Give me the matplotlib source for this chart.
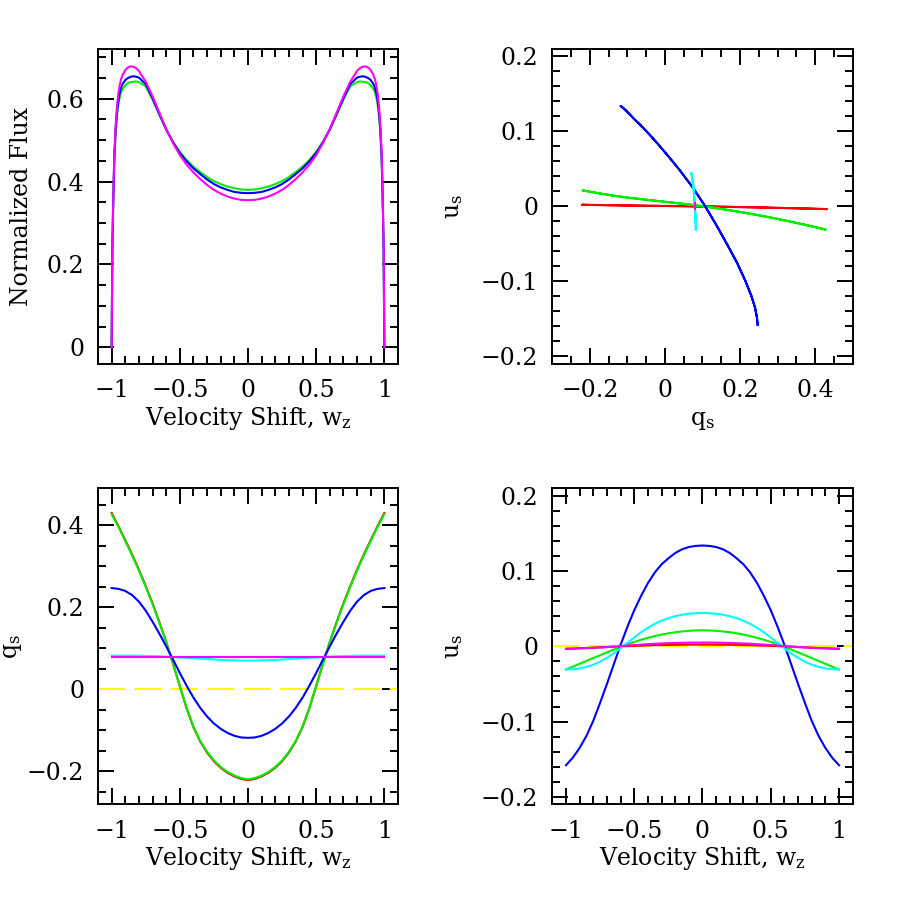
import matplotlib
matplotlib.use("Agg")
import matplotlib.pyplot as plt
from matplotlib.ticker import MultipleLocator, FuncFormatter

plt.rcParams['font.family'] = ['DejaVu Serif']
plt.rcParams['mathtext.fontset'] = 'dejavuserif'

# velocity grid for the flux profiles (finer near the line edges)
W_FLUX = [-1.0, -0.995, -0.99, -0.985, -0.98, -0.97, -0.96, -0.95, -0.94, -0.93, -0.92,
          -0.90, -0.88, -0.86, -0.84, -0.82, -0.80, -0.75, -0.70, -0.65, -0.60, -0.55,
          -0.50, -0.45, -0.40, -0.35, -0.30, -0.25, -0.20, -0.15, -0.10, -0.05, 0.0,
          0.05, 0.10, 0.15, 0.20, 0.25, 0.30, 0.35, 0.40, 0.45, 0.50, 0.55, 0.60,
          0.65, 0.70, 0.75, 0.80, 0.82, 0.84, 0.86, 0.88, 0.90, 0.92, 0.93, 0.94,
          0.95, 0.96, 0.97, 0.98, 0.985, 0.99, 0.995, 1.0]

flux_green = [0.0, 0.229, 0.321, 0.393, 0.456, 0.522, 0.563, 0.588, 0.605, 0.616, 0.623,
              0.632, 0.638, 0.640, 0.641, 0.6415, 0.640, 0.630, 0.598, 0.561, 0.525, 0.496,
              0.472, 0.452, 0.436, 0.423, 0.411, 0.401, 0.394, 0.388, 0.384, 0.381, 0.380,
              0.381, 0.384, 0.388, 0.394, 0.401, 0.411, 0.423, 0.436, 0.452, 0.472, 0.496, 0.525,
              0.561, 0.598, 0.630, 0.640, 0.6415, 0.641, 0.640, 0.638, 0.632, 0.623, 0.616, 0.605,
              0.588, 0.563, 0.522, 0.456, 0.393, 0.321, 0.229, 0.0]
flux_blue = [0.0, 0.231, 0.324, 0.397, 0.461, 0.528, 0.570, 0.597, 0.615, 0.627, 0.635,
             0.645, 0.650, 0.653, 0.654, 0.653, 0.651, 0.635, 0.601, 0.563, 0.526, 0.495,
             0.469, 0.449, 0.432, 0.418, 0.405, 0.394, 0.386, 0.380, 0.375, 0.373, 0.372,
             0.373, 0.375, 0.380, 0.386, 0.394, 0.405, 0.418, 0.432, 0.449, 0.469, 0.495, 0.526,
             0.563, 0.601, 0.635, 0.651, 0.653, 0.654, 0.653, 0.650, 0.645, 0.635, 0.627, 0.615,
             0.597, 0.570, 0.528, 0.461, 0.397, 0.324, 0.231, 0.0]
flux_magenta = [0.0, 0.235, 0.330, 0.405, 0.470, 0.540, 0.585, 0.614, 0.634, 0.648, 0.657,
                0.669, 0.6755, 0.678, 0.677, 0.6735, 0.667, 0.641, 0.606, 0.566, 0.527, 0.493,
                0.464, 0.441, 0.422, 0.406, 0.392, 0.380, 0.371, 0.364, 0.359, 0.356, 0.355,
                0.356, 0.359, 0.364, 0.371, 0.380, 0.392, 0.406, 0.422, 0.441, 0.464, 0.493, 0.527,
                0.566, 0.606, 0.641, 0.667, 0.6735, 0.677, 0.678, 0.6755, 0.669, 0.657, 0.648, 0.634,
                0.614, 0.585, 0.540, 0.470, 0.405, 0.330, 0.235, 0.0]

# velocity grid for the polarization curves
W_POL = [-1.0, -0.95, -0.90, -0.85, -0.80, -0.75, -0.70, -0.65, -0.60, -0.55, -0.50,
         -0.45, -0.40, -0.35, -0.30, -0.25, -0.20, -0.15, -0.10, -0.05, 0.0,
         0.05, 0.10, 0.15, 0.20, 0.25, 0.30, 0.35, 0.40, 0.45, 0.50,
         0.55, 0.60, 0.65, 0.70, 0.75, 0.80, 0.85, 0.90, 0.95, 1.0]

q_red = [0.430, 0.398, 0.364, 0.329, 0.292, 0.252, 0.210, 0.164, 0.116, 0.063, 0.008,
         -0.046, -0.092, -0.127, -0.154, -0.175, -0.191, -0.203, -0.212, -0.218, -0.221,
         -0.218, -0.212, -0.203, -0.191, -0.175, -0.154, -0.127, -0.092, -0.046, 0.008,
         0.063, 0.116, 0.164, 0.210, 0.252, 0.292, 0.329, 0.364, 0.398, 0.430]
q_green = [0.427, 0.396, 0.362, 0.327, 0.290, 0.250, 0.208, 0.163, 0.115, 0.063, 0.008,
           -0.045, -0.091, -0.126, -0.152, -0.173, -0.189, -0.201, -0.210, -0.216, -0.219,
           -0.216, -0.210, -0.201, -0.189, -0.173, -0.152, -0.126, -0.091, -0.045, 0.008,
           0.063, 0.115, 0.163, 0.208, 0.250, 0.290, 0.327, 0.362, 0.396, 0.427]
q_blue = [0.247, 0.245, 0.240, 0.230, 0.214, 0.192, 0.165, 0.136, 0.105, 0.073, 0.040,
          0.009, -0.020, -0.045, -0.066, -0.083, -0.096, -0.106, -0.113, -0.117, -0.118,
          -0.117, -0.113, -0.106, -0.096, -0.083, -0.066, -0.045, -0.020, 0.009, 0.040,
          0.073, 0.105, 0.136, 0.165, 0.192, 0.214, 0.230, 0.240, 0.245, 0.247]
q_cyan = [0.0825, 0.0825, 0.0824, 0.0823, 0.0821, 0.0818, 0.0813, 0.0807, 0.0800, 0.0790, 0.0780,
          0.0770, 0.0760, 0.0750, 0.0740, 0.0730, 0.0720, 0.0713, 0.0707, 0.0702, 0.0700,
          0.0702, 0.0707, 0.0713, 0.0720, 0.0730, 0.0740, 0.0750, 0.0760, 0.0770, 0.0780,
          0.0790, 0.0800, 0.0807, 0.0813, 0.0818, 0.0821, 0.0823, 0.0824, 0.0825, 0.0825]
q_magenta = [0.079, 0.079, 0.079, 0.079, 0.079, 0.079, 0.079, 0.079, 0.079, 0.079, 0.079,
             0.079, 0.079, 0.079, 0.079, 0.079, 0.079, 0.079, 0.079, 0.079, 0.079,
             0.079, 0.079, 0.079, 0.079, 0.079, 0.079, 0.079, 0.079, 0.079, 0.079,
             0.079, 0.079, 0.079, 0.079, 0.079, 0.079, 0.079, 0.079, 0.079, 0.079]

u_red = [-0.0035, -0.0031, -0.0026, -0.0022, -0.0018, -0.0013, -0.0009, -0.0005, -0.0001, 0.0003, 0.0006,
         0.0009, 0.0012, 0.0015, 0.0017, 0.0019, 0.0020, 0.0021, 0.0022, 0.0023, 0.0023,
         0.0023, 0.0022, 0.0021, 0.0020, 0.0019, 0.0017, 0.0015, 0.0012, 0.0009, 0.0006,
         0.0003, -0.0001, -0.0005, -0.0009, -0.0013, -0.0018, -0.0022, -0.0026, -0.0031, -0.0035]
u_green = [-0.0308, -0.0270, -0.0232, -0.0194, -0.0156, -0.0118, -0.0080, -0.0043, -0.0007, 0.0027, 0.0058,
           0.0087, 0.0113, 0.0136, 0.0156, 0.0173, 0.0187, 0.0198, 0.0206, 0.0211, 0.0213,
           0.0211, 0.0206, 0.0198, 0.0187, 0.0173, 0.0156, 0.0136, 0.0113, 0.0087, 0.0058,
           0.0027, -0.0007, -0.0043, -0.0080, -0.0118, -0.0156, -0.0194, -0.0232, -0.0270, -0.0308]
u_blue = [-0.158, -0.148, -0.135, -0.119, -0.099, -0.075, -0.050, -0.024, 0.002, 0.026, 0.048,
          0.067, 0.084, 0.098, 0.109, 0.117, 0.124, 0.129, 0.132, 0.1335, 0.134,
          0.1335, 0.132, 0.129, 0.124, 0.117, 0.109, 0.098, 0.084, 0.067, 0.048,
          0.026, 0.002, -0.024, -0.050, -0.075, -0.099, -0.119, -0.135, -0.148, -0.158]
u_cyan = [-0.0307, -0.0305, -0.0294, -0.0274, -0.0244, -0.0204, -0.0154, -0.0094, -0.0026, 0.0046, 0.0118,
          0.0186, 0.0246, 0.0298, 0.0340, 0.0374, 0.0401, 0.0420, 0.0433, 0.0441, 0.0444,
          0.0441, 0.0433, 0.0420, 0.0401, 0.0374, 0.0340, 0.0298, 0.0246, 0.0186, 0.0118,
          0.0046, -0.0026, -0.0094, -0.0154, -0.0204, -0.0244, -0.0274, -0.0294, -0.0305, -0.0307]
u_magenta = [-0.0030, -0.0029, -0.0027, -0.0024, -0.0020, -0.0015, -0.0010, -0.0004, 0.0003, 0.0010, 0.0017,
             0.0023, 0.0029, 0.0034, 0.0038, 0.0042, 0.0045, 0.0047, 0.0049, 0.0050, 0.0050,
             0.0050, 0.0049, 0.0047, 0.0045, 0.0042, 0.0038, 0.0034, 0.0029, 0.0023, 0.0017,
             0.0010, 0.0003, -0.0004, -0.0010, -0.0015, -0.0020, -0.0024, -0.0027, -0.0029, -0.0030]

RED, GREEN, BLUE = '#ff0000', '#00ee00', '#0000ff'
CYAN, MAGENTA, YELLOW = '#00ffff', '#ff00ff', '#ffff00'
LW = 1.5
TICK_FS = 17
LBL_FS = 17


def sm_fmt(v, pos):
    s = '%g' % round(v, 6)
    if s == '-0':
        s = '0'
    return s.replace('-', '\u2212')


def style(ax, xmaj, xmin, ymaj, ymin):
    ax.xaxis.set_major_locator(MultipleLocator(xmaj))
    ax.xaxis.set_minor_locator(MultipleLocator(xmin))
    ax.yaxis.set_major_locator(MultipleLocator(ymaj))
    ax.yaxis.set_minor_locator(MultipleLocator(ymin))
    ax.xaxis.set_major_formatter(FuncFormatter(sm_fmt))
    ax.yaxis.set_major_formatter(FuncFormatter(sm_fmt))
    ax.tick_params(which='both', direction='in', top=True, right=True,
                   width=1.4, labelsize=TICK_FS, color='black')
    ax.tick_params(axis='x', pad=11)
    ax.tick_params(axis='y', pad=10)
    ax.tick_params(which='major', length=11.5)
    ax.tick_params(which='minor', length=6)
    for s in ax.spines.values():
        s.set_linewidth(1.4)


fig = plt.figure(figsize=(9, 9), dpi=100)
ax1 = fig.add_axes([0.1089, 0.5956, 0.3333, 0.35])
ax2 = fig.add_axes([0.6137, 0.5956, 0.3337, 0.35])
ax3 = fig.add_axes([0.1089, 0.1063, 0.3333, 0.3511])
ax4 = fig.add_axes([0.6137, 0.1063, 0.3337, 0.3511])

# flux profiles
ax1.plot(W_FLUX, flux_green, color=GREEN, lw=LW)
ax1.plot(W_FLUX, flux_blue, color=BLUE, lw=LW)
ax1.plot(W_FLUX, flux_magenta, color=MAGENTA, lw=LW)
ax1.set_xlim(-1.1, 1.1)
ax1.set_ylim(-0.04, 0.72)
style(ax1, 0.5, 0.1, 0.2, 0.05)

# q-u plane
for q, u, c in [(q_red, u_red, RED), (q_green, u_green, GREEN), (q_blue, u_blue, BLUE),
                (q_cyan, u_cyan, CYAN), (q_magenta, u_magenta, MAGENTA)]:
    ax2.plot(q, u, color=c, lw=LW)
ax2.set_xlim(-0.3, 0.5)
ax2.set_ylim(-0.21, 0.21)
style(ax2, 0.2, 0.05, 0.1, 0.02)

# q vs velocity
ax3.axhline(0, color=YELLOW, lw=LW, dashes=(13, 4.5))
for q, c in [(q_red, RED), (q_green, GREEN), (q_blue, BLUE), (q_cyan, CYAN), (q_magenta, MAGENTA)]:
    ax3.plot(W_POL, q, color=c, lw=LW)
ax3.set_xlim(-1.1, 1.1)
ax3.set_ylim(-0.28, 0.49)
style(ax3, 0.5, 0.1, 0.2, 0.05)

# u vs velocity
ax4.axhline(0, color=YELLOW, lw=LW, dashes=(13, 4.5))
for u, c in [(u_red, RED), (u_green, GREEN), (u_blue, BLUE), (u_cyan, CYAN), (u_magenta, MAGENTA)]:
    ax4.plot(W_POL, u, color=c, lw=LW)
ax4.set_xlim(-1.1, 1.1)
ax4.set_ylim(-0.21, 0.21)
style(ax4, 0.5, 0.1, 0.1, 0.02)

# axis labels
vel = r'Velocity Shift, w$_{\mathrm{z}}$'
fig.text(0.2761, 0.5278, vel, ha='center', va='baseline', fontsize=LBL_FS)
fig.text(0.7806, 0.5278, r'q$_{\mathrm{s}}$', ha='center', va='baseline', fontsize=LBL_FS)
fig.text(0.2761, 0.0386, vel, ha='center', va='baseline', fontsize=LBL_FS)
fig.text(0.7806, 0.0386, vel, ha='center', va='baseline', fontsize=LBL_FS)
fig.text(0.0244, 0.7706, 'Normalized Flux', ha='center', va='center', rotation=90, fontsize=LBL_FS)
fig.text(0.5044, 0.7706, r'u$_{\mathrm{s}}$', ha='center', va='center', rotation=90, fontsize=LBL_FS)
fig.text(0.0144, 0.2822, r'q$_{\mathrm{s}}$', ha='center', va='center', rotation=90, fontsize=LBL_FS)
fig.text(0.5044, 0.2822, r'u$_{\mathrm{s}}$', ha='center', va='center', rotation=90, fontsize=LBL_FS)

fig.savefig('out.png', dpi=100)
